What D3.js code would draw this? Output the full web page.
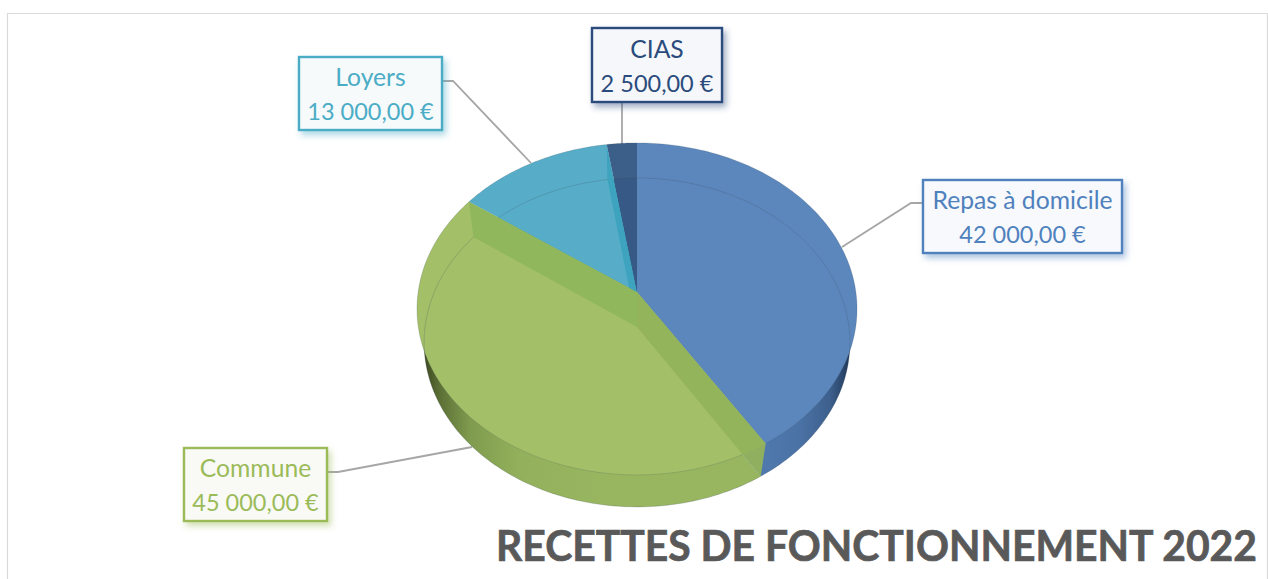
<!DOCTYPE html>
<html>
<head>
<meta charset="utf-8">
<script src="https://cdn.jsdelivr.net/npm/d3@7/dist/d3.min.js"></script>
<style>
html,body{margin:0;padding:0;background:#fff;overflow:hidden}
svg{display:block}
text{font-family:Lato,sans-serif}
</style>
</head>
<body>
<svg id="c" width="1268" height="579"></svg>
<script>
// ---- data ----
const categories = ["Repas à domicile", "Commune", "Loyers", "CIAS"];
const values = [42000, 45000, 13000, 2500];
const valueLabels = ["42 000,00 €", "45 000,00 €", "13 000,00 €", "2 500,00 €"];
const titleText = "RECETTES DE FONCTIONNEMENT 2022";

// ---- styles ----
const faceColors = ["#5c87bd", "#a3bf68", "#57adc8", "#3c5f8a"];
const textColors = ["#4f81bd", "#9bbb59", "#4bacc6", "#2a4b7c"];
const boxFills = ["#f7f9fc", "#f9faf6", "#f6fafb", "#f5f7fa"];

// ---- layout ----
const topDisk = {cx:637, cy:292, ax:218.9, ay:164.3, k:-0.102};
const botDisk = {cx:637, cy:327, ax:212, ay:163, k:-0.094};
const boxes = [
  {x:923,y:180,w:199,h:73, dy:0, leader:[[923,203],[911,203],[842,247]]},
  {x:184,y:448,w:143,h:73, dy:0, leader:[[327,472],[338,472],[472,447]]},
  {x:299,y:57, w:143,h:73, dy:0, leader:[[442,81],[453,81],[531,163]]},
  {x:592,y:28, w:130,h:74, dy:1, leader:[[622,102],[622,145]]}
];

const svg = d3.select("#c");
const defs = svg.append("defs");

// pie angles from the data
const pie = d3.pie().sort(null).value(d => d)(values);

// perspective projection of a disk
const project = (d, a) => {
  const u = Math.sin(a), v = -Math.cos(a), w = 1 + d.k * v;
  return [d.cx + d.ax * u / w, d.cy + d.ay * v / w];
};
const line = d3.line();
const arcPts = (d, a0, a1) => d3.range(0, 121).map(i => project(d, a0 + (a1 - a0) * i / 120));
const slicePath = (d, s) => line([[d.cx, d.cy], ...arcPts(d, s.startAngle, s.endAngle)]) + "Z";
const diskPath = d => line(arcPts(d, 0, 2 * Math.PI)) + "Z";
const wallPath = a => line([[topDisk.cx, topDisk.cy], project(topDisk, a), project(botDisk, a), [botDisk.cx, botDisk.cy]]) + "Z";

// rim gradients
function grad(id, stops) {
  const g = defs.append("linearGradient").attr("id", id).attr("gradientUnits", "userSpaceOnUse")
    .attr("x1", stops[0][0]).attr("x2", stops[stops.length - 1][0]).attr("y1", 0).attr("y2", 0);
  const x0 = stops[0][0], x1 = stops[stops.length - 1][0];
  stops.forEach(s => g.append("stop").attr("offset", (s[0] - x0) / (x1 - x0)).attr("stop-color", s[1]));
}
grad("rimBlue", [[760, "#5079ae"], [800, "#4b72a5"], [830, "#3d608d"], [852, "#1e3554"]]);
grad("rimGreen", [[423, "#3b4821"], [440, "#5c7036"], [470, "#7f9b4e"], [520, "#93b15c"], [600, "#98b660"]]);
const rimFills = ["url(#rimBlue)", "url(#rimGreen)", "#3f8ea6", "#2c4668"];

// shadows
textColors.forEach((c, i) => {
  defs.append("filter").attr("id", "sh" + i).attr("x", "-15%").attr("y", "-25%").attr("width", "130%").attr("height", "150%")
    .append("feDropShadow").attr("dx", 3).attr("dy", 4).attr("stdDeviation", 3.2)
    .attr("flood-color", c).attr("flood-opacity", 0.45);
});

// frame
svg.append("path").attr("d", "M7.5,579V13.5H1267.5V579").attr("fill", "none").attr("stroke", "#dadada").attr("stroke-width", 1.2);

// leader lines
svg.append("g").selectAll("path").data(boxes).join("path")
  .attr("d", b => line(b.leader)).attr("fill", "none").attr("stroke", "#a6a6a6").attr("stroke-width", 1.8);

// bottom disk / rim
svg.append("g").selectAll("path").data(pie).join("path")
  .attr("d", s => slicePath(botDisk, s)).attr("fill", (s, i) => rimFills[i]);

// top face
svg.append("g").selectAll("path").data(pie).join("path")
  .attr("d", s => slicePath(topDisk, s)).attr("fill", (s, i) => faceColors[i]);

// clip for Loyers inner wall
defs.append("clipPath").attr("id", "clipLoyers").append("path").attr("d", slicePath(topDisk, pie[2]));

// CIAS rear part seen through
defs.append("clipPath").attr("id", "clipBot").append("path").attr("d", diskPath(botDisk));
svg.append("path").attr("d", slicePath(topDisk, pie[3])).attr("fill", "#2f4f7c").attr("fill-opacity", 0.35).attr("clip-path", "url(#clipBot)");

// thin outlines
svg.append("path").attr("d", diskPath(botDisk)).attr("fill", "none").attr("stroke", "#3a4a55").attr("stroke-opacity", 0.22).attr("stroke-width", 1);
svg.append("path").attr("d", diskPath(topDisk)).attr("fill", "none").attr("stroke", "#3a4a55").attr("stroke-opacity", 0.18).attr("stroke-width", 1);

// inner walls seen through the translucent slices
svg.append("path").attr("d", wallPath(pie[0].endAngle)).attr("fill", "#93b35c").attr("fill-opacity", 0.95);
svg.append("path").attr("d", wallPath(pie[1].endAngle)).attr("fill", "#90b75c");
svg.append("path").attr("d", wallPath(pie[2].endAngle)).attr("fill", "#3ea3bf").attr("clip-path", "url(#clipLoyers)");

// labels
const lab = svg.append("g").selectAll("g").data(boxes).join("g");
lab.append("rect").attr("x", b => b.x).attr("y", b => b.y).attr("width", b => b.w).attr("height", b => b.h)
  .attr("fill", (b, i) => boxFills[i]).attr("stroke", (b, i) => textColors[i]).attr("stroke-width", 2.4)
  .attr("filter", (b, i) => `url(#sh${i})`);
lab.append("text").attr("x", b => b.x + b.w / 2).attr("y", b => b.y + 29 + b.dy).attr("text-anchor", "middle")
  .attr("font-size", 24.7).attr("fill", (b, i) => textColors[i]).text((b, i) => categories[i]);
lab.append("text").attr("x", b => b.x + b.w / 2).attr("y", b => b.y + 63 + b.dy).attr("text-anchor", "middle")
  .attr("font-size", 23.5).attr("fill", (b, i) => textColors[i]).text((b, i) => valueLabels[i]);

// title
svg.append("text").attr("x", 496).attr("y", 561).attr("font-size", 42).attr("font-weight", 700)
  .attr("fill", "#595959").attr("stroke", "#595959").attr("stroke-width", 0.7)
  .attr("textLength", 761).attr("lengthAdjust", "spacingAndGlyphs").text(titleText);
</script>
</body>
</html>
